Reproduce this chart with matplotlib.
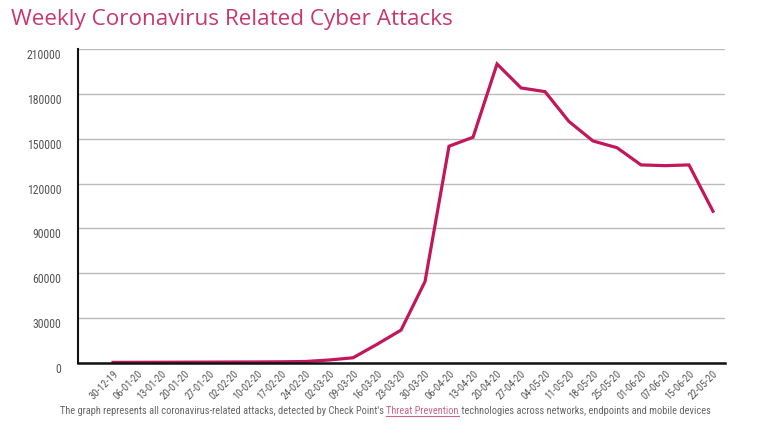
import matplotlib
matplotlib.use('Agg')
import matplotlib.pyplot as plt
from matplotlib import font_manager
from matplotlib.transforms import ScaledTranslation

# weekly counts
weeks = ['30-12-19', '06-01-20', '13-01-20', '20-01-20', '27-01-20', '02-02-20',
         '10-02-20', '17-02-20', '24-02-20', '02-03-20', '09-03-20', '16-03-20',
         '23-03-20', '30-03-20', '06-04-20', '13-04-20', '20-04-20', '27-04-20',
         '04-05-20', '11-05-20', '18-05-20', '25-05-20', '01-06-20', '07-06-20',
         '15-06-20', '22-05-20']
attacks = [400, 450, 500, 550, 600, 650, 700, 800, 1000, 2000, 3500, 12500,
           22000, 54500, 145000, 151000, 200000, 184000, 181500, 161500,
           148500, 144000, 132500, 132000, 132500, 101500]
yticks = [0, 30000, 60000, 90000, 120000, 150000, 180000, 210000]

# pick a narrow face if the box has one
names = {f.name for f in font_manager.fontManager.ttflist}
narrow = 'DejaVu Sans'
for cand in ['Liberation Sans Narrow', 'DejaVu Sans Condensed', 'Roboto Condensed']:
    if cand in names:
        narrow = cand
        break

pink = '#c2185b'
grey = '#555555'

fig = plt.figure(figsize=(7.68, 4.34), dpi=100)
ax = fig.add_axes([0.1016, 0.1636, 0.8424, 0.7234])

x = list(range(len(weeks)))
ax.plot(x, attacks, color=pink, linewidth=2.3, solid_joinstyle='miter')

ax.set_xlim(-1.46, 25.5)
ax.set_ylim(0, 210000)
ax.set_yticks(yticks)
ax.set_yticklabels([str(v) for v in yticks], fontsize=8.5, color=grey,
                   family=narrow, stretch='condensed')
ax.set_xticks(x)
ax.set_xticklabels(weeks, rotation=45, ha='right', rotation_mode='anchor',
                   fontsize=7.5, color=grey, family=narrow, stretch='condensed')
ax.tick_params(axis='both', length=0)
ax.tick_params(axis='y', pad=12)
ax.tick_params(axis='x', pad=4)
# labels in the original sit a little under their gridlines
for lab in ax.get_yticklabels():
    lab.set_transform(lab.get_transform() + ScaledTranslation(0, -0.05, fig.dpi_scale_trans))

ax.grid(axis='y', color='#bbbbbb', linewidth=1)
ax.set_axisbelow(True)
for s in ['top', 'right']:
    ax.spines[s].set_visible(False)
ax.spines['left'].set_linewidth(1.5)
ax.spines['bottom'].set_linewidth(1.8)
ax.spines['left'].set_color('#111111')
ax.spines['bottom'].set_color('#111111')

fig.text(0.014, 0.955, 'Weekly Coronavirus Related Cyber Attacks', fontsize=16.2,
         color='#c73872', va='center', ha='left', family='Open Sans')

# caption, with the link part in pink
capsize = 7.45
cap1 = fig.text(0.078, 0.054, "The graph represents all coronavirus-related attacks, detected by Check Point's ",
                fontsize=capsize, color='#666666', va='center', ha='left',
                family=narrow, stretch='condensed')
fig.canvas.draw()
r = fig.canvas.get_renderer()
bb = cap1.get_window_extent(r)
x1 = bb.x1 / fig.bbox.width
cap2 = fig.text(x1, 0.054, 'Threat Prevention', fontsize=capsize, color='#c9658c',
                va='center', ha='left', family=narrow, stretch='condensed')
bb2 = cap2.get_window_extent(r)
x2 = bb2.x1 / fig.bbox.width
fig.add_artist(plt.Line2D([x1, x2], [0.042, 0.042], color='#c9658c',
                          linewidth=0.8, transform=fig.transFigure))
fig.text(x2, 0.054, ' technologies across networks, endpoints and mobile devices',
         fontsize=capsize, color='#666666', va='center', ha='left',
         family=narrow, stretch='condensed')

fig.savefig('out.png', dpi=100)
